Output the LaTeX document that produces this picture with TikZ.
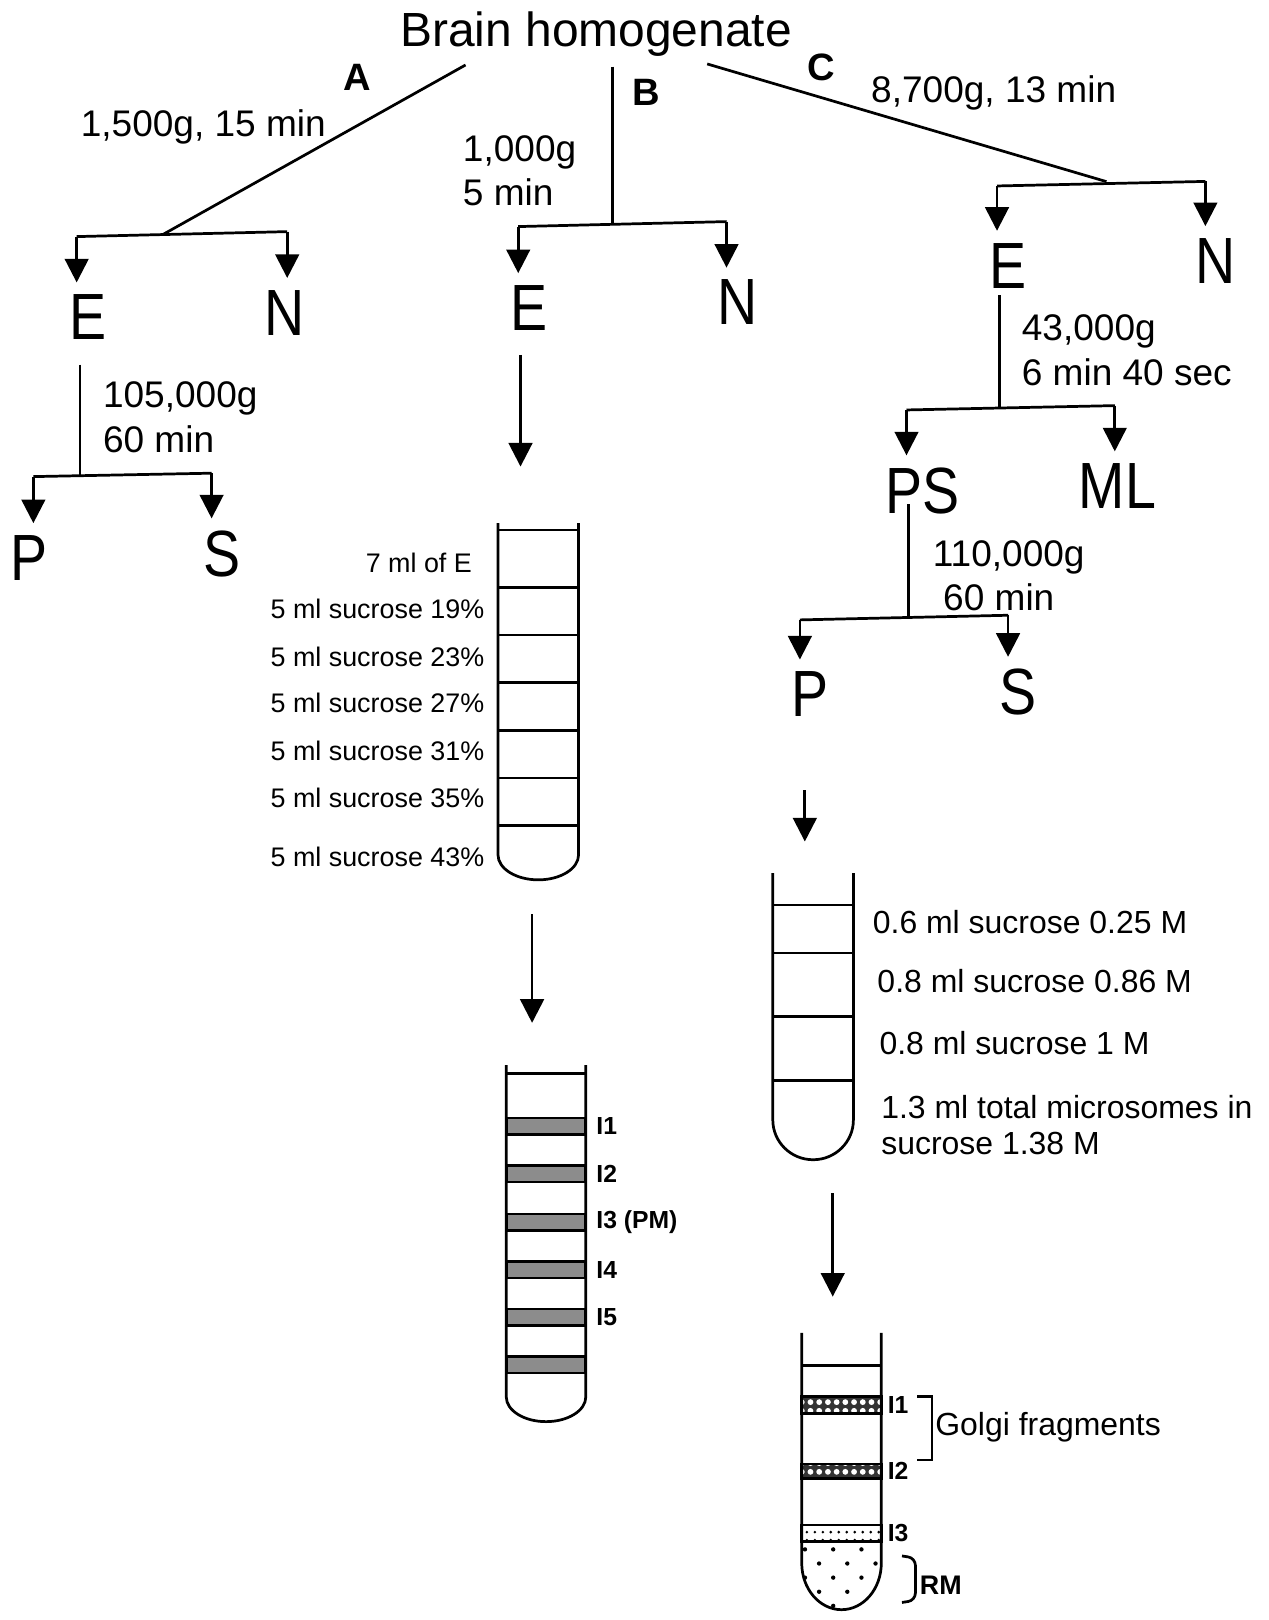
\documentclass[tikz,border=0pt]{standalone}
\usepackage{fontspec}
\setmainfont{Liberation Sans}
\usetikzlibrary{arrows.meta, patterns.meta}

\begin{document}
\begin{tikzpicture}[
    line width=0.75pt,
    every node/.style={inner sep=0pt},
    title/.style={font=\fontsize{13.2}{15}\selectfont, anchor=base},
    route/.style={font=\bfseries\fontsize{10.5}{12}\selectfont},
    spin/.style={font=\fontsize{10.2}{12.2}\selectfont, align=left},
    frac/.style={font=\fontsize{18}{20}\selectfont, inner sep=3pt, xscale=0.85},
    arr/.style={-{Triangle[width=6.5pt,length=6.5pt]}},
    layerlbl/.style={font=\fontsize{7.4}{9}\selectfont, anchor=east},
    gradlbl/.style={font=\fontsize{8.8}{9.7}\selectfont, anchor=west, align=left},
    bandlbl/.style={font=\bfseries\fontsize{6.8}{8}\selectfont, anchor=west},
    band/.style={draw, fill=black!45},
    golgi/.style={draw, preaction={fill=black!80}, pattern={Dots[distance=2.4pt, radius=0.8pt]}, pattern color=white},
    fine/.style={draw, pattern={Dots[distance=2.2pt, radius=0.4pt]}}
]
\useasboundingbox (0,0) rectangle (12.28,-15.68);

% Nodes
\node[title] (hom) at (5.77,-0.452) {Brain homogenate};
\node[route] (labA) at (3.46,-0.753) {A};
\node[route] (labB) at (6.258,-0.892) {B};
\node[route] (labC) at (7.95,-0.656) {C};

% route A
\coordinate (oA) at (4.506,-0.629);
\coordinate (jA) at (1.58,-2.268);
\coordinate (lA) at (0.742,-2.29);
\coordinate (rA) at (2.78,-2.242);
\node[spin] (cA) at (1.968,-1.226) {1,500g, 15 min};
\node[frac] (eA) at (0.855,-3.07) {E};
\node[frac] (nA) at (2.756,-3.027) {N};
\coordinate (tA) at (0.774,-3.53);
\coordinate (kA) at (0.774,-4.604);
\coordinate (plA) at (0.323,-4.613);
\coordinate (prA) at (2.048,-4.58);
\node[spin, anchor=west] (cA2) at (0.984,-4.039) {105,000g\\60 min};
\node[frac] (pA) at (0.283,-5.40) {P};
\node[frac] (supA) at (2.145,-5.36) {S};

% route B
\coordinate (oB) at (5.93,-0.645);
\coordinate (jB) at (5.93,-2.171);
\coordinate (lB) at (5.016,-2.193);
\coordinate (rB) at (7.032,-2.145);
\node[spin, anchor=west] (cB) at (4.468,-1.652) {1,000g\\5 min};
\node[frac] (eB) at (5.116,-2.98) {E};
\node[frac] (nB) at (7.14,-2.927) {N};
\coordinate (tB) at (5.038,-3.435);
\coordinate (fB) at (5.038,-4.516);

% route C
\coordinate (oC) at (6.845,-0.619);
\coordinate (jC) at (10.709,-1.758);
\coordinate (lC) at (9.65,-1.80);
\coordinate (rC) at (11.667,-1.756);
\node[spin] (cC) at (9.618,-0.903) {8,700g, 13 min};
\node[frac] (eC) at (9.76,-2.57) {E};
\node[frac] (nC) at (11.77,-2.525) {N};
\coordinate (tC) at (9.677,-2.86);
\coordinate (kC) at (9.677,-3.945);
\coordinate (plC) at (8.774,-3.968);
\coordinate (prC) at (10.79,-3.926);
\node[spin, anchor=west] (cC2) at (9.877,-3.389) {43,000g\\6 min 40 sec};
\node[frac] (ps) at (8.933,-4.75) {PS};
\node[frac] (ml) at (10.816,-4.705) {ML};
\coordinate (tP) at (8.796,-4.883);
\coordinate (kP) at (8.796,-5.975);
\coordinate (plP) at (7.742,-6.00);
\coordinate (prP) at (9.757,-5.955);
\node[spin, anchor=west] (cP) at (9.016,-5.575) {110,000g\\\kern1mm 60 min};
\node[frac] (pC) at (7.838,-6.72) {P};
\node[frac] (supC) at (9.854,-6.70) {S};
\coordinate (tD) at (7.79,-7.65);
\coordinate (fD) at (7.79,-8.145);
\coordinate (tE) at (5.15,-8.85);
\coordinate (fE) at (5.15,-9.90);
\coordinate (tF) at (8.06,-11.55);
\coordinate (fF) at (8.06,-12.55);

% Edges
\draw (oA) -- (jA);
\draw (lA) -- (rA);
\draw[arr] (lA) -- (lA |- eA.north);
\draw[arr] (rA) -- (rA |- nA.north);
\draw (tA) -- (kA);
\draw (plA) -- (prA);
\draw[arr] (plA) -- (plA |- pA.north);
\draw[arr] (prA) -- (prA |- supA.north);

\draw (oB) -- (jB);
\draw (lB) -- (rB);
\draw[arr] (lB) -- (lB |- eB.north);
\draw[arr] (rB) -- (rB |- nB.north);
\draw[arr] (tB) -- (fB);
\draw[arr] (tE) -- (fE);

\draw (oC) -- (jC);
\draw (lC) -- (rC);
\draw[arr] (lC) -- (lC |- eC.north);
\draw[arr] (rC) -- (rC |- nC.north);
\draw (tC) -- (kC);
\draw (plC) -- (prC);
\draw[arr] (plC) -- (plC |- ps.north);
\draw[arr] (prC) -- (prC |- ml.north);
\draw (tP) -- (kP);
\draw (plP) -- (prP);
\draw[arr] (plP) -- (plP |- pC.north);
\draw[arr] (prP) -- (prP |- supC.north);
\draw[arr] (tD) -- (fD);
\draw[arr] (tF) -- (fF);

% sucrose gradient (route B)
\draw (4.82,-5.064) -- (4.82,-8.274) arc[start angle=180, end angle=360, x radius=0.39, y radius=0.242] -- (5.60,-5.064);
\foreach \y in {-5.13,-5.683,-6.145,-6.606,-7.071,-7.53,-7.99}
  \draw (4.82,\y) -- (5.60,\y);
\node[layerlbl] (gB0) at (4.58,-5.45) {7 ml of E};
\foreach \y/\t [count=\i] in {-5.896/19, -6.354/23, -6.806/27, -7.264/31, -7.725/35, -8.29/43}
  \node[layerlbl] (gB\i) at (4.70,\y) {5 ml sucrose \t\%};

% fractions after spin
\foreach \y in {-10.82,-11.28,-11.75,-12.21,-12.67,-13.13}
  \draw[band] (4.90,\y) rectangle (5.67,\y-0.16);
\draw (4.90,-10.31) -- (4.90,-13.52) arc[start angle=180, end angle=360, x radius=0.385, y radius=0.24] -- (5.67,-10.31);
\draw (4.90,-10.39) -- (5.67,-10.39);
\foreach \y/\t [count=\i] in {-10.90/I1, -11.365/I2, -11.83/I3 (PM), -12.29/I4, -12.75/I5}
  \node[bandlbl] (iB\i) at (5.76,\y) {\t};

% microsome gradient (route C)
\draw (7.48,-8.45) -- (7.48,-10.84) arc[start angle=180, end angle=360, x radius=0.39, y radius=0.385] -- (8.26,-8.45);
\foreach \y in {-8.76,-9.225,-9.84,-10.46}
  \draw (7.48,\y) -- (8.26,\y);
\node[gradlbl] (gC1) at (8.435,-8.92) {0.6 ml sucrose 0.25 M};
\node[gradlbl] (gC2) at (8.48,-9.50) {0.8 ml sucrose 0.86 M};
\node[gradlbl] (gC3) at (8.50,-10.095) {0.8 ml sucrose 1 M};
\node[gradlbl] (gC4) at (8.517,-10.89) {1.3 ml total microsomes in\\sucrose 1.38 M};

% Golgi tube
\fill[pattern={Dots[distance=5.5pt, radius=0.6pt, angle=45]}] (7.76,-14.92) -- (7.76,-15.13) arc[start angle=180, end angle=360, x radius=0.385, y radius=0.45] -- (8.53,-14.92) -- cycle;
\draw[golgi] (7.76,-13.52) rectangle (8.53,-13.68);
\draw[golgi] (7.76,-14.17) rectangle (8.53,-14.31);
\draw[fine] (7.76,-14.76) rectangle (8.53,-14.92);
\draw (7.76,-12.90) -- (7.76,-15.13) arc[start angle=180, end angle=360, x radius=0.385, y radius=0.45] -- (8.53,-12.90);
\draw (7.76,-13.22) -- (8.53,-13.22);
\node[bandlbl] (iC1) at (8.58,-13.60) {I1};
\node[bandlbl] (iC2) at (8.58,-14.24) {I2};
\node[bandlbl] (iC3) at (8.58,-14.84) {I3};
\draw (8.88,-13.52) -- (9.02,-13.52) -- (9.02,-14.13) -- (8.88,-14.13);
\node[gradlbl] (gf) at (9.04,-13.81) {Golgi fragments};
\draw[rounded corners=2pt] (8.73,-15.06) -- (8.86,-15.08) -- (8.86,-15.49) -- (8.73,-15.51);
\node[bandlbl, font=\bfseries\fontsize{7.4}{9}\selectfont] (rm) at (8.89,-15.34) {RM};

\end{tikzpicture}
\end{document}
